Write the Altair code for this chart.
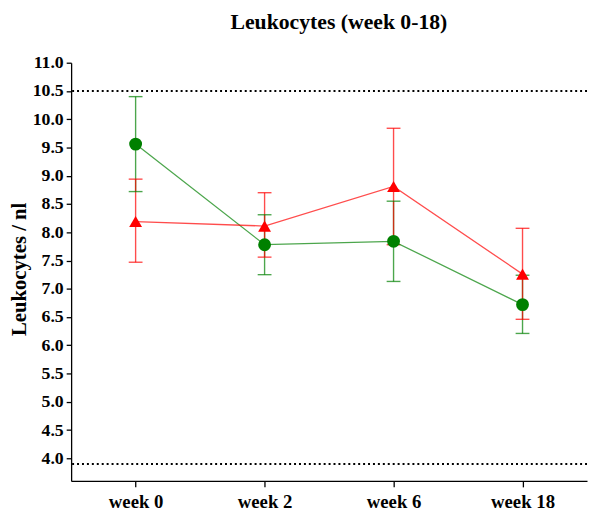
import altair as alt
import pandas as pd

weeks = ["week 0", "week 2", "week 6", "week 18"]
groups = ["Group 1", "Group 2"]

green_mean = [9.56, 7.78, 7.84, 6.72]
green_low = [8.72, 7.25, 7.13, 6.21]
green_high = [10.40, 8.31, 8.55, 7.24]

red_mean = [8.19, 8.11, 8.81, 7.26]
red_low = [7.47, 7.56, 7.78, 6.46]
red_high = [8.94, 8.70, 9.84, 8.07]

ref_lines = [10.5, 3.9]
y_ticks = [4.0, 4.5, 5.0, 5.5, 6.0, 6.5, 7.0, 7.5, 8.0, 8.5, 9.0, 9.5, 10.0, 10.5, 11.0]

rows = []
for i, w in enumerate(weeks):
    rows.append({"week": w, "group": groups[0], "mean": green_mean[i], "low": green_low[i], "high": green_high[i]})
    rows.append({"week": w, "group": groups[1], "mean": red_mean[i], "low": red_low[i], "high": red_high[i]})
df = pd.DataFrame(rows)
ref_df = pd.DataFrame({"ref": ref_lines})

FONT = "Liberation Serif"

x_enc = alt.X(
    "week:N",
    sort=weeks,
    scale=alt.Scale(type="point", padding=0.5),
    axis=alt.Axis(
        title=None, labelAngle=0, labelFont=FONT, labelFontSize=19, labelFontWeight="bold",
        labelColor="black", tickColor="black", domainColor="black", tickSize=6,
        labelPadding=6, domainWidth=1.3, tickWidth=1.3,
    ),
)
y_scale = alt.Scale(domain=[3.6, 11.0], nice=False, zero=False)
y_axis = alt.Axis(
    title="Leukocytes / nl", values=y_ticks, format=".1f", grid=False,
    labelFont=FONT, labelFontSize=18, labelFontWeight="bold", labelColor="black",
    titleFont=FONT, titleFontSize=21, titleFontWeight="bold", titleColor="black",
    titleX=-42, titleY=209, tickColor="black", domainColor="black", tickSize=5,
    labelPadding=3, domainWidth=1.3, tickWidth=1.3,
)
color_enc = alt.Color("group:N", scale=alt.Scale(domain=groups, range=["#008000", "#ff0000"]), legend=None)
shape_enc = alt.Shape("group:N", scale=alt.Scale(domain=groups, range=["circle", "triangle-up"]), legend=None)

refs = alt.Chart(ref_df).mark_rule(color="black", strokeDash=[2, 3], strokeWidth=2).encode(
    y=alt.Y("ref:Q", scale=y_scale, axis=y_axis)
)

base = alt.Chart(df).encode(x=x_enc, color=color_enc)

bars = base.mark_rule(strokeWidth=1.4, opacity=0.7).encode(
    y=alt.Y("low:Q", scale=y_scale, axis=y_axis), y2="high:Q"
)
cap_lo = base.mark_tick(size=14, thickness=1.4, opacity=0.7).encode(y=alt.Y("low:Q", scale=y_scale, axis=y_axis))
cap_hi = base.mark_tick(size=14, thickness=1.4, opacity=0.7).encode(y=alt.Y("high:Q", scale=y_scale, axis=y_axis))
lines = base.mark_line(strokeWidth=1.3, opacity=0.7).encode(
    y=alt.Y("mean:Q", scale=y_scale, axis=y_axis), detail="group:N"
)
points = base.mark_point(filled=True, opacity=1, size=170).encode(
    y=alt.Y("mean:Q", scale=y_scale, axis=y_axis), shape=shape_enc
)

chart = alt.layer(refs, bars, cap_lo, cap_hi, lines, points).properties(
    width=523,
    height=424,
    autosize=alt.AutoSizeParams(type="none"),
    padding={"left": 64, "top": 52, "right": 1, "bottom": 28},
    title=alt.TitleParams(
        "Leukocytes (week 0-18)", font=FONT, fontSize=22, fontWeight="bold", color="black",
        baseline="alphabetic", offset=3, dx=10,
    ),
).configure_view(stroke=None)

chart.save("out.html", embed_options={"renderer": "svg", "actions": False})
